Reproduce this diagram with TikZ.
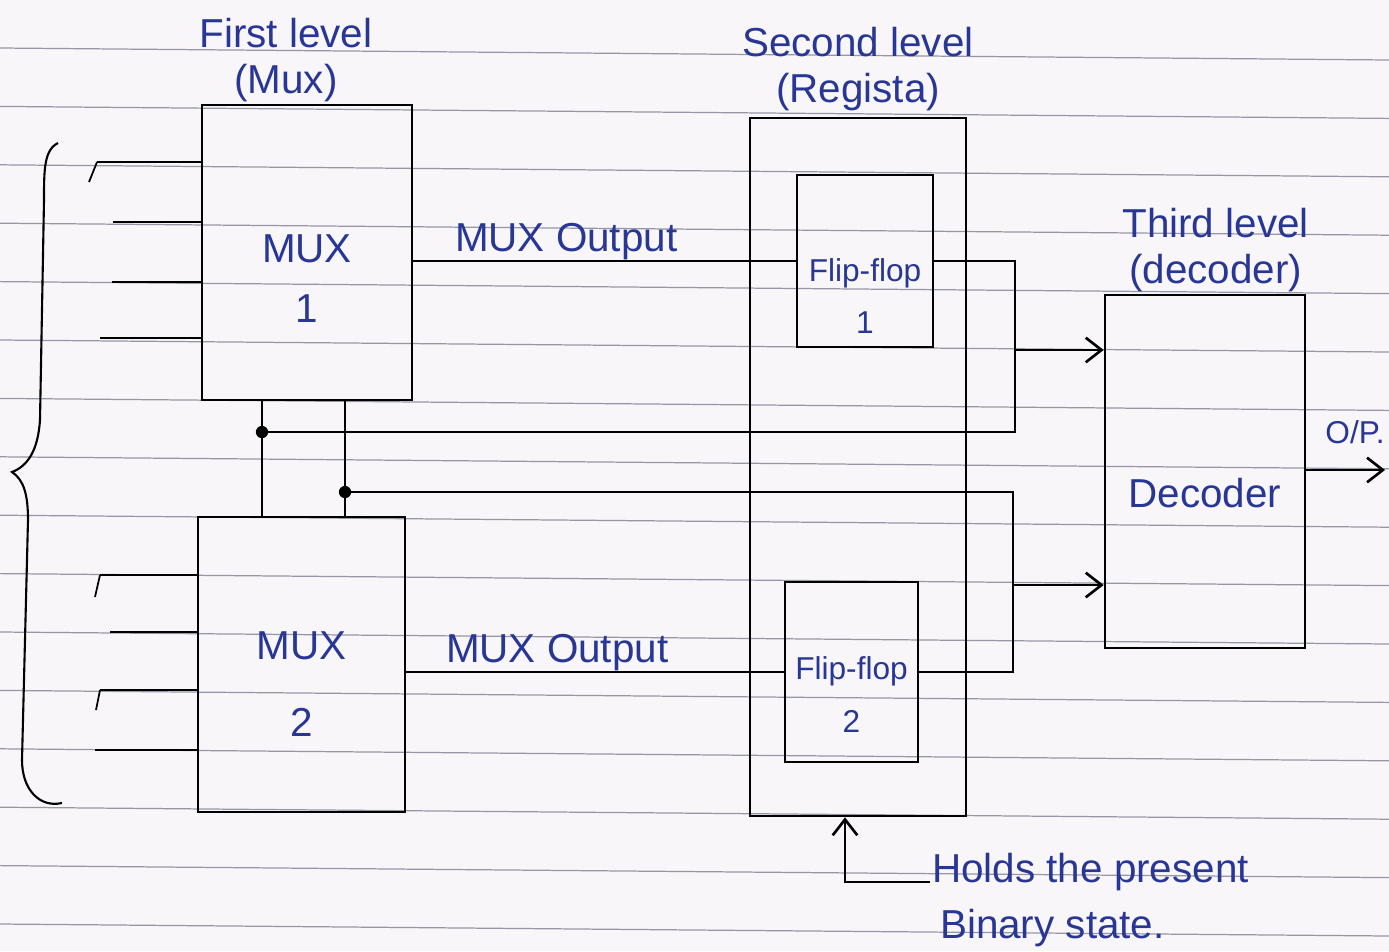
\documentclass[tikz,border=0pt]{standalone}
\usepackage{fontspec}
\setmainfont{Liberation Sans}
\usetikzlibrary{positioning, fit, arrows.meta}
\definecolor{ink}{RGB}{40,55,150}
\definecolor{paper}{RGB}{249,246,249}
\definecolor{ruleline}{RGB}{150,150,165}

\begin{document}
\begin{tikzpicture}[x=0.02cm, y=-0.02cm,
    block/.style={draw, line width=1.5pt, inner sep=0pt},
    wire/.style={line width=1.5pt},
    arr/.style={wire, -{Straight Barb[length=9pt, width=14pt]}},
    lbl/.style={text=ink, align=center, inner sep=1pt},
    big/.style={font=\fontsize{23}{26}\selectfont},
    small/.style={font=\fontsize{18}{22}\selectfont}]

        % Paper with ruled lines
        \fill[paper] (0,0) rectangle (1389,951);
        \useasboundingbox (0,0) rectangle (1389,951);
        \foreach \k in {0,...,15}
            \draw[ruleline, line width=0.7pt] (0,{48+58.4*\k}) -- (1389,{60+58.4*\k});

        % Blocks of the three levels
        \node[block, fit={(202,105) (412,400)}] (mux1) {};
        \node[block, fit={(198,517) (405,812)}] (mux2) {};
        \node[block, fit={(750,118) (966,816)}] (reg) {};
        \node[block, fit={(797,175) (933,347)}] (ff1) {};
        \node[block, fit={(785,582) (918,762)}] (ff2) {};
        \node[block, fit={(1105,295) (1305,648)}] (dec) {};

        % Texts inside the blocks
        \node[lbl, big] (mux1txt) at ([yshift=-15pt]mux1.center) {MUX\\[8pt]1};
        \node[lbl, big] (mux2txt) at ([yshift=-11pt]mux2.center) {MUX\\[18pt]2};
        \node[lbl, small] (ff1txt) at ([yshift=-20pt]ff1.center) {Flip-flop\\[8pt]1};
        \node[lbl, small] (ff2txt) at ([yshift=-13pt]ff2.center) {Flip-flop\\[8pt]2};
        \node[lbl, big] (dectxt) at ([yshift=-12pt]dec.center) {Decoder};

        % Level titles
        \node[lbl, big, above=0pt of mux1, xshift=-12pt] (lvl1) {First level\\(Mux)};
        \node[lbl, big, above=2pt of reg] (lvl2) {Second level\\(Regista)};
        \node[lbl, big, above=0pt of dec, xshift=6pt] (lvl3) {Third level\\(decoder)};

        % Input lines of the multiplexers
        \foreach \y/\x [count=\i] in {162/97, 222/113, 282/112, 338/100} {
            \coordinate (a\i) at (\x,\y);
            \draw[wire] (a\i) -- (a\i -| mux1.west);
        }
        \foreach \y/\x [count=\i] in {575/100, 632/110, 690/100, 750/95} {
            \coordinate (b\i) at (\x,\y);
            \draw[wire] (b\i) -- (b\i -| mux2.west);
        }
        \draw[line width=1pt] (a1) -- ++(-8,20);
        \draw[line width=1pt] (b1) -- ++(-5,22);
        \draw[line width=1pt] (b3) -- ++(-4,20);

        % Brace round the inputs
        \draw[line width=1.2pt] (58,143) .. controls (44,150) and (44,170) .. (44,200)
            -- (40,420) .. controls (38,450) and (28,466) .. (12,472)
            .. controls (24,480) and (28,495) .. (28,520)
            -- (22,760) .. controls (22,790) and (40,808) .. (62,803);

        % MUX outputs into the flip-flops
        \draw[wire] (ff1.west -| mux1.east) -- (ff1.west)
            node[lbl, big, pos=0.4, above, inner sep=0pt] (out1) {MUX Output};
        \draw[wire] (ff2.west -| mux2.east) -- (ff2.west)
            node[lbl, big, pos=0.4, above, inner sep=0pt] (out2) {MUX Output};

        % Present state fed back to the multiplexers
        \coordinate (d1) at (262,432);
        \coordinate (d2) at (345,492);
        \coordinate (j1) at (1015,432);
        \coordinate (j2) at (1013,492);
        \draw[wire] (d1 |- mux1.south) -- (d1 |- mux2.north);
        \draw[wire] (d2 |- mux1.south) -- (d2 |- mux2.north);
        \draw[wire] (ff1.east) -| (j1) -- (d1);
        \draw[wire] (ff2.east) -| (j2) -- (d2);
        \fill (d1) circle (3.5pt);
        \fill (d2) circle (3.5pt);

        % Into the decoder
        \coordinate (t1) at (1015,350);
        \coordinate (t2) at (1013,585);
        \draw[arr] (t1) -- (t1 -| dec.west);
        \draw[arr] (t2) -- (t2 -| dec.west);

        % Decoder output
        \coordinate (op) at (1385,470);
        \draw[arr] (dec.east |- op) -- (op);
        \node[lbl, small] (oplbl) at (1355,432) {O/P.};

        % Note under the register
        \node[lbl, big, anchor=base west] (note1) at (930,882) {Holds the present};
        \node[lbl, big, anchor=base west] (note2) at (938,938) {Binary state.};
        \coordinate (np) at (845,882);
        \draw[arr] (note1.base west) -- (np) -- (np |- reg.south);
    \end{tikzpicture}
\end{document}
